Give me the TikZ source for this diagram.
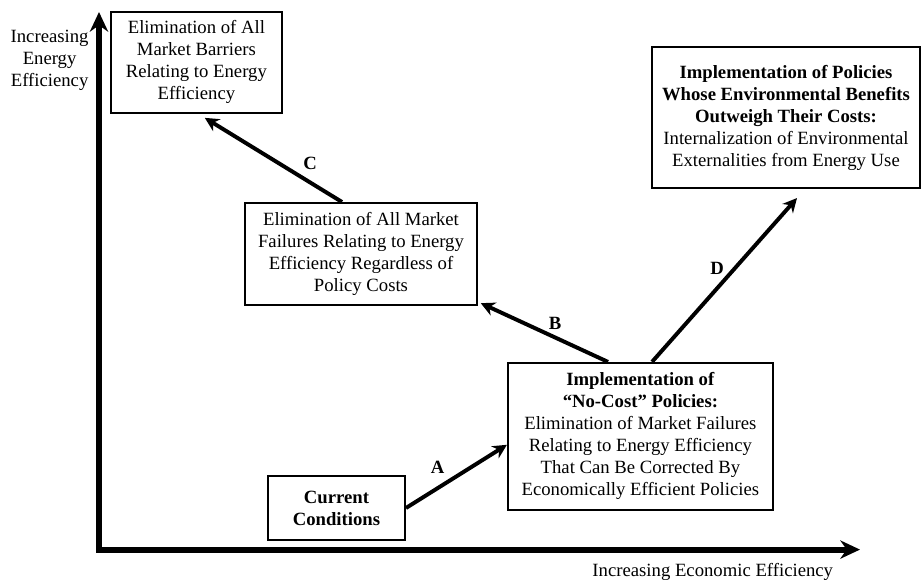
\documentclass[tikz,border=0pt]{standalone}
\usepackage{fontspec}
\setmainfont{Liberation Serif}
\usepackage{tikz}
\usetikzlibrary{arrows.meta}

\begin{document}
\begin{tikzpicture}[
  box/.style={draw, line width=1.4pt, align=center, inner sep=0pt},
  link/.style={line width=2.8pt, -{Stealth[length=10pt,width=10pt]}},
  font=\fontsize{13.3}{15.65}\selectfont]
\useasboundingbox (0,0) rectangle (23.05,14.5);

% Axes
\draw[line width=4.3pt, {Stealth[length=14pt,width=13pt]}-{Stealth[length=14pt,width=13pt]}]
  (2.475,14.2) -- (2.475,0.76) -- (21.5,0.76);
\node[align=center] (ylabel) at (1.24,13.0) {Increasing\\Energy\\Efficiency};
\node[anchor=east] (xlabel) at (20.95,0.2) {Increasing Economic Efficiency};

% Boxes
\node[box, minimum width=4.275cm, minimum height=2.525cm] (barriers) at (4.91,12.94)
  {Elimination of All\\Market Barriers\\Relating to Energy\\Efficiency};
\node[box, minimum width=5.8cm, minimum height=2.55cm] (failures) at (9.025,8.15)
  {Elimination of All Market\\Failures Relating to Energy\\Efficiency Regardless of\\Policy Costs};
\node[box, minimum width=6.7cm, minimum height=3.525cm] (external) at (19.65,11.56)
  {\textbf{Implementation of Policies}\\\textbf{Whose Environmental Benefits}\\\textbf{Outweigh Their Costs:}\\Internalization of Environmental\\Externalities from Energy Use};
\node[box, minimum width=6.625cm, minimum height=3.675cm] (nocost) at (16.01,3.59)
  {\textbf{Implementation of}\\\textbf{``No-Cost'' Policies:}\\Elimination of Market Failures\\Relating to Energy Efficiency\\That Can Be Corrected By\\Economically Efficient Policies};
\node[box, minimum width=3.425cm, minimum height=1.6cm] (current) at (8.4125,1.8)
  {\textbf{Current}\\\textbf{Conditions}};

% Steps A to D
\draw[link] (current.east) -- ([yshift=-0.21cm]nocost.west);
\node (labA) at (10.94,2.81) {\textbf{A}};
\draw[link] ([xshift=-0.81cm]nocost.north) -- ([shift={(0.07,0.07)}]failures.south east);
\node (labB) at (13.875,6.425) {\textbf{B}};
\draw[link] ([xshift=-0.475cm]failures.north) -- ([shift={(0.21,-0.1)}]barriers.south);
\node (labC) at (7.75,10.425) {\textbf{C}};
\draw[link] ([xshift=0.29cm]nocost.north) -- ([shift={(0.275,-0.225)}]external.south);
\node (labD) at (17.925,7.8) {\textbf{D}};
\end{tikzpicture}
\end{document}
